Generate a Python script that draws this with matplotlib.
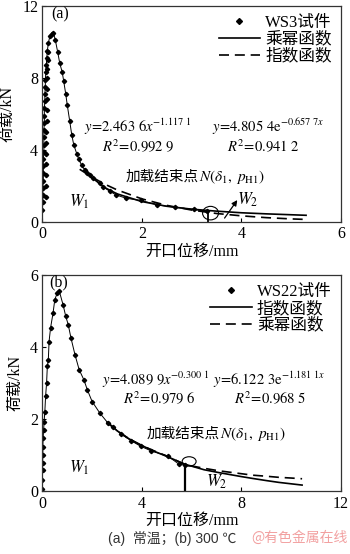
import matplotlib
matplotlib.use('Agg')
import matplotlib.pyplot as plt
from matplotlib.lines import Line2D
from matplotlib.patches import Ellipse

plt.rcParams['font.family'] = ['Liberation Serif', 'Noto Sans CJK SC']
plt.rcParams['mathtext.fontset'] = 'stix'

# (a) WS3 常温
a_rise_x = [0.00, 0.01, 0.01, 0.01, 0.02, 0.02, 0.02, 0.02, 0.03, 0.03, 0.03, 0.03,
            0.04, 0.04, 0.04, 0.05, 0.05, 0.06, 0.06, 0.07, 0.08, 0.09, 0.10, 0.12, 0.15]
a_rise_y = [0.7, 1.1, 1.5, 1.9, 2.3, 2.7, 3.1, 3.5, 3.9, 4.3, 4.7, 5.1,
            5.5, 5.9, 6.3, 6.7, 7.1, 7.5, 7.9, 8.3, 8.7, 9.1, 9.5, 9.9, 10.3]
a_desc_x = [0.19, 0.22, 0.26, 0.31, 0.35, 0.40, 0.43, 0.47, 0.50, 0.55, 0.59, 0.63,
            0.69, 0.73, 0.79, 0.85, 0.90, 0.96, 1.02, 1.15, 1.22, 1.36, 1.49, 1.69,
            1.99, 2.30, 2.67, 3.04, 3.30]
a_desc_y = [10.45, 10.5, 10.1, 9.4, 8.8, 8.3, 7.8, 7.1, 6.5, 5.6, 4.85, 4.3,
            3.8, 3.5, 3.15, 2.9, 2.75, 2.6, 2.43, 2.15, 1.96, 1.7, 1.5, 1.32,
            1.2, 0.96, 0.82, 0.71, 0.6]
a_rise2_x = [0.07, 0.07, 0.07, 0.08, 0.08, 0.08, 0.08, 0.09, 0.09, 0.09, 0.10, 0.10,
             0.10, 0.11, 0.11]
a_rise2_y = [1.4, 2.0, 2.6, 3.2, 3.8, 4.4, 5.0, 5.6, 6.2, 6.8, 7.4, 8.0, 8.5, 9.0, 9.4]
a_pow_x = [0.85, 1.0, 1.25, 1.5, 2.0, 2.5, 3.0, 3.5, 4.0, 4.5, 5.0, 5.3]
a_pow_y = [2.95, 2.46, 1.92, 1.57, 1.14, 0.88, 0.72, 0.61, 0.52, 0.46, 0.41, 0.38]
a_exp_x = [0.75, 1.0, 1.25, 1.5, 2.0, 2.5, 3.0, 3.5, 4.0, 4.5, 5.0, 5.3]
a_exp_y = [2.93, 2.49, 2.11, 1.79, 1.29, 0.93, 0.67, 0.48, 0.35, 0.25, 0.18, 0.15]

# (b) WS22 300 ℃
b_data_x = [0.0, 0.0, 0.01, 0.01, 0.02, 0.02, 0.03, 0.05, 0.07, 0.10, 0.13, 0.17,
            0.20, 0.24, 0.27, 0.33, 0.43, 0.50, 0.60, 0.68, 0.84, 0.94, 1.04, 1.15,
            1.31, 1.48, 1.67, 1.81, 2.0, 2.31, 2.64, 2.84, 3.18, 3.58, 3.95, 4.38,
            5.04, 5.48, 5.74]
b_data_y = [0.08, 0.31, 0.59, 0.80, 1.01, 1.24, 1.47, 1.70, 1.93, 2.21, 2.63, 3.0,
            3.46, 3.65, 4.15, 4.53, 4.94, 5.31, 5.5, 5.55, 5.15, 4.85, 4.62, 4.25,
            3.79, 3.37, 3.09, 2.81, 2.49, 2.17, 1.89, 1.79, 1.58, 1.40, 1.25, 1.12,
            0.98, 0.76, 0.72]
b_exp_x = [2.6, 3.0, 3.5, 4.0, 4.5, 5.0, 5.74, 6.5, 7.1, 8.0, 8.44, 9.0, 9.5, 10.0, 10.44]
b_exp_y = [1.92, 1.68, 1.45, 1.27, 1.11, 0.97, 0.75, 0.60, 0.52, 0.41, 0.36, 0.30, 0.25, 0.21, 0.175]
b_pow_x = [2.6, 3.0, 3.5, 4.0, 4.5, 5.0, 5.74, 6.5, 7.1, 8.0, 8.44, 9.0, 9.5, 10.0, 10.44]
b_pow_y = [1.92, 1.68, 1.45, 1.27, 1.12, 0.98, 0.74, 0.64, 0.57, 0.49, 0.45, 0.42, 0.39, 0.37, 0.35]

fig = plt.figure(figsize=(3.5, 5.54), dpi=100)
ax1 = fig.add_axes([0.121, 0.599, 0.853, 0.391])
ax2 = fig.add_axes([0.121, 0.113, 0.853, 0.391])

mk = dict(marker='D', markersize=2.2, color='black')
dash = (0, (6, 3.5))


def style(ax, xmax, ymax, xt, yt):
    ax.set_xlim(0, xmax)
    ax.set_ylim(0, ymax)
    ax.set_xticks(xt)
    ax.set_yticks(yt)
    ax.tick_params(direction='in', length=3, labelsize=11.5, pad=3)
    for s in ax.spines.values():
        s.set_linewidth(0.9)
        s.set_color('#333333')
    ax.set_xlabel('开口位移/mm', fontsize=11.5, labelpad=1)
    ax.set_ylabel('荷载/kN', fontsize=11.5, labelpad=5)


def end_label(ax, x, y):
    # CJK part and math part drawn separately (mathtext has no CJK fallback)
    ax.text(x, y, '加载结束点', fontsize=10.5, ha='right', va='center')
    ax.text(x, y, r'$N(\delta_1,\ p_{\mathrm{H1}})$', fontsize=11, ha='left', va='center')


def legend(ax, labels):
    h = [Line2D([], [], ls='none', marker='D', markersize=3, color='black'),
         Line2D([], [], color='black', lw=1.2),
         Line2D([], [], color='black', lw=1.2, ls=dash)]
    ax.legend(h, labels, loc='upper right', frameon=False,
              fontsize=12, handlelength=2.5, handletextpad=0.3, labelspacing=0.05,
              borderaxespad=0.15, bbox_to_anchor=(1.0, 1.0))


# ---- (a)
ax1.plot(a_rise_x + a_desc_x, a_rise_y + a_desc_y, '-', lw=0.7, **mk)
ax1.plot(a_rise2_x, a_rise2_y, ls='none', **mk)
ax1.plot(a_pow_x, a_pow_y, '-', color='black', lw=1.2)
ax1.plot(a_exp_x, a_exp_y, color='black', lw=1.2, ls=dash)
ax1.plot([3.32, 3.32], [0, 0.6], color='black', lw=1.3)
ax1.add_patch(Ellipse((3.38, 0.5), 0.32, 0.75, fill=False, lw=0.8, color='black'))
ax1.annotate('', xy=(3.95, 1.35), xytext=(3.63, 0.1),
             arrowprops=dict(arrowstyle='-|>', color='black', lw=0.9, mutation_scale=8))
style(ax1, 6, 12, [0, 2, 4, 6], [0, 4, 8, 12])
ax1.text(0.17, 11.5, '(a)', fontsize=11.5, va='center')
ax1.text(0.75, 1.1, r'$W_1$', fontsize=12, ha='center', va='center')
ax1.text(4.12, 1.25, r'$W_2$', fontsize=12, ha='center', va='center')
ax1.text(1.92, 5.3, r'$y\!=\!2.463\ 6x^{-1.117\ 1}$', fontsize=10.5, ha='center', va='center')
ax1.text(1.92, 4.2, r'$R^2\!=\!0.992\ 9$', fontsize=10.5, ha='center', va='center')
ax1.text(4.53, 5.3, r'$y\!=\!4.805\ 4\mathrm{e}^{-0.657\ 7x}$', fontsize=10.5, ha='center', va='center')
ax1.text(4.45, 4.2, r'$R^2\!=\!0.941\ 2$', fontsize=10.5, ha='center', va='center')
end_label(ax1, 3.15, 2.5)
legend(ax1, ['WS3试件', '乘幂函数', '指数函数'])

# ---- (b)
ax2.plot(b_data_x, b_data_y, '-', lw=0.7, **mk)
ax2.plot(b_exp_x, b_exp_y, '-', color='black', lw=1.2)
ax2.plot(b_pow_x, b_pow_y, color='black', lw=1.2, ls=dash)
ax2.plot([5.74, 5.74], [0, 0.72], color='black', lw=1.6)
ax2.add_patch(Ellipse((5.9, 0.83), 0.56, 0.26, fill=False, lw=0.8, color='black'))
style(ax2, 12, 6, [0, 4, 8, 12], [0, 2, 4, 6])
ax2.text(0.64, 5.78, '(b)', fontsize=11.5, ha='center', va='center')
ax2.text(1.5, 0.64, r'$W_1$', fontsize=12, ha='center', va='center')
ax2.text(7.0, 0.27, r'$W_2$', fontsize=12, ha='center', va='center')
ax2.text(4.57, 3.08, r'$y\!=\!4.089\ 9x^{-0.300\ 1}$', fontsize=10.5, ha='center', va='center')
ax2.text(4.71, 2.56, r'$R^2\!=\!0.979\ 6$', fontsize=10.5, ha='center', va='center')
ax2.text(9.1, 3.08, r'$y\!=\!6.122\ 3\mathrm{e}^{-1.181\ 1x}$', fontsize=10.5, ha='center', va='center')
ax2.text(9.17, 2.56, r'$R^2\!=\!0.968\ 5$', fontsize=10.5, ha='center', va='center')
end_label(ax2, 7.13, 1.6)
legend(ax2, ['WS22试件', '指数函数', '乘幂函数'])

fig.text(172 / 350, 1 - 538 / 554, '(a)  常温；(b) 300 ℃', fontsize=10, color='#333333',
         ha='center', va='center', family=['Liberation Sans', 'Noto Sans CJK SC'])
fig.text(299 / 350, 1 - 538 / 554, '@有色金属在线', fontsize=10, color='#f2a0a0',
         ha='center', va='center', family=['Noto Sans CJK SC', 'DejaVu Sans'])

fig.savefig('out.png', dpi=100)
